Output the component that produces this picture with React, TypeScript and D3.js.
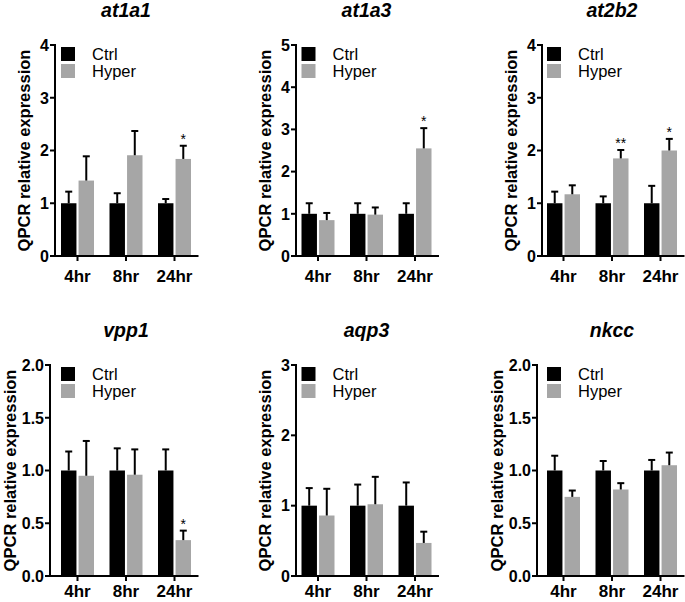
import React from 'react';
import * as d3 from 'd3';

const genes = ['at1a1', 'at1a3', 'at2b2', 'vpp1', 'aqp3', 'nkcc'];
const timepoints = ['4hr', '8hr', '24hr'];
const groups = ['Ctrl', 'Hyper'];
const yMaxes = [4, 5, 4, 2, 3, 2];
const yTickSteps = [1, 1, 1, 0.5, 1, 0.5];
const ctrlMeans = [[1, 1, 1], [1, 1, 1], [1, 1, 1], [1, 1, 1], [1, 1, 1], [1, 1, 1]];
const ctrlErrs = [[0.22, 0.19, 0.08], [0.25, 0.25, 0.25], [0.22, 0.13, 0.33], [0.18, 0.21, 0.2], [0.25, 0.3, 0.33], [0.14, 0.09, 0.1]];
const hyperMeans = [[1.43, 1.91, 1.84], [0.85, 0.98, 2.55], [1.17, 1.85, 2.0], [0.95, 0.96, 0.34], [0.86, 1.02, 0.47], [0.75, 0.82, 1.05]];
const hyperErrs = [[0.46, 0.46, 0.25], [0.17, 0.17, 0.48], [0.17, 0.16, 0.22], [0.33, 0.24, 0.09], [0.38, 0.39, 0.16], [0.06, 0.06, 0.12]];
const hyperStars = [['', '', '*'], ['', '', '*'], ['', '**', '*'], ['', '', '*'], ['', '', ''], ['', '', '']];

const W = 685;
const H = 602;
const rowTop = [45, 365];
const rowBottom = [256, 576];
const rowXLabelOffset = [26, 21];
const colFirstCat = [77.5, 318, 563.5];
const catStep = 48.5;
const axisXs = [55, 296, 542, 50, 296, 537];
const FONT = '"Liberation Sans", Arial, Helvetica, sans-serif';
const CTRL_COLOR = '#000000';
const HYPER_COLOR = '#a6a6a6';

function Panel({ idx }: { idx: number }) {
  const row = Math.floor(idx / 3);
  const col = idx % 3;
  const top = rowTop[row];
  const bottom = rowBottom[row];
  const axisX = axisXs[idx];
  const c0 = colFirstCat[col];
  const x = d3.scalePoint<string>().domain(timepoints).range([c0, c0 + catStep * (timepoints.length - 1)]);
  const axisEnd = c0 + catStep * (timepoints.length - 1) + 23;
  const inner = d3.scaleBand<string>().domain(groups).range([-16.5, 16.5]).paddingInner(0.12);
  const y = d3.scaleLinear().domain([0, yMaxes[idx]]).range([bottom, top]);
  const step = yTickSteps[idx];
  const ticks = d3.range(0, yMaxes[idx] + step / 2, step);
  const fmt = step < 1 ? d3.format('.1f') : d3.format('d');
  const wideTicks = step < 1;
  const labelX = axisX - (wideTicks ? 40 : 31);
  const means = [ctrlMeans[idx], hyperMeans[idx]];
  const errs = [ctrlErrs[idx], hyperErrs[idx]];
  const colors = [CTRL_COLOR, HYPER_COLOR];
  const bw = inner.bandwidth();
  const legendX = c0 + (inner('Ctrl') as number);

  return (
    <g>
      <text x={x(timepoints[1])!} y={top - 28} textAnchor="middle" fontFamily={FONT} fontWeight="bold" fontStyle="italic" fontSize={19.5}>
        {genes[idx]}
      </text>
      {groups.map((g, gi) =>
        timepoints.map((t, ti) => {
          const bx = x(t)! + (inner(g) as number);
          const m = means[gi][ti];
          const e = errs[gi][ti];
          const cx = bx + bw / 2;
          const yTop = y(m + e);
          return (
            <g key={g + t}>
              <rect x={bx} y={y(m)} width={bw} height={bottom - y(m)} fill={colors[gi]} />
              <line x1={cx} x2={cx} y1={y(m)} y2={yTop} stroke="#000" strokeWidth={2} />
              <line x1={cx - 3.5} x2={cx + 3.5} y1={yTop} y2={yTop} stroke="#000" strokeWidth={2} />
              {gi === 1 && hyperStars[idx][ti] ? (
                <text x={cx} y={yTop - 2} textAnchor="middle" fontFamily={FONT} fontSize={14}>
                  {hyperStars[idx][ti]}
                </text>
              ) : null}
            </g>
          );
        })
      )}
      <line x1={axisX} x2={axisX} y1={top} y2={bottom} stroke="#000" strokeWidth={2} strokeLinecap="square" />
      <line x1={axisX} x2={axisEnd} y1={bottom} y2={bottom} stroke="#000" strokeWidth={2} strokeLinecap="square" />
      {ticks.map((v) => (
        <g key={v}>
          <line x1={axisX - 5} x2={axisX} y1={y(v)} y2={y(v)} stroke="#000" strokeWidth={2} />
          <text x={axisX - 6} y={y(v)} dy="0.36em" textAnchor="end" fontFamily={FONT} fontWeight="bold" fontSize={16}>
            {fmt(v)}
          </text>
        </g>
      ))}
      {timepoints.map((t) => (
        <g key={t}>
          <line x1={x(t)!} x2={x(t)!} y1={bottom} y2={bottom + 5} stroke="#000" strokeWidth={2} />
          <text x={x(t)!} y={bottom + rowXLabelOffset[row]} textAnchor="middle" fontFamily={FONT} fontWeight="bold" fontSize={17}>
            {t}
          </text>
        </g>
      ))}
      <text
        transform={`translate(${labelX},${(top + bottom) / 2}) rotate(-90)`}
        textAnchor="middle"
        dy="0.36em"
        fontFamily={FONT}
        fontWeight="bold"
        fontSize={16.5}
      >
        QPCR relative expression
      </text>
      {groups.map((g, gi) => (
        <g key={g}>
          <rect x={legendX} y={top + 2 + gi * 17} width={14} height={14} fill={colors[gi]} />
          <text x={legendX + 31} y={top + 9 + gi * 17} dy="0.36em" fontFamily={FONT} fontSize={16.5}>
            {g}
          </text>
        </g>
      ))}
    </g>
  );
}

export default function App() {
  return (
    <svg width={W} height={H} style={{ position: 'absolute', left: 0, top: 0, background: '#fff' }}>
      <rect width={W} height={H} fill="#fff" />
      {genes.map((g, i) => (
        <Panel key={g} idx={i} />
      ))}
    </svg>
  );
}
